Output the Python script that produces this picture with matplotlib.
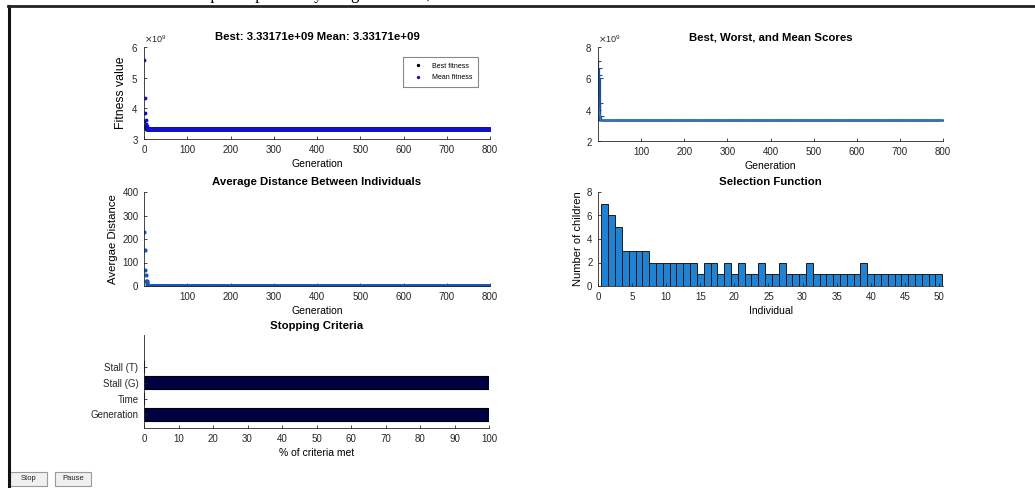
import numpy as np
import matplotlib
matplotlib.use("Agg")
import matplotlib.pyplot as plt
from matplotlib.lines import Line2D
from matplotlib.patches import Rectangle
from matplotlib.ticker import ScalarFormatter

plt.rcParams['font.family'] = ['Liberation Sans', 'DejaVu Sans']

W, H = 1035, 488
n_gen = 800
final_score = 3.33171e9

# fitness history (only the first generations differ, the rest is flat)
best_early = [3.60e9, 3.45e9, 3.40e9, 3.36e9, 3.34e9, 3.335e9]
mean_early = [5.58e9, 4.35e9, 3.85e9, 3.62e9, 3.50e9, 3.42e9, 3.37e9]
best_fit = best_early + [final_score] * (n_gen - len(best_early))
mean_fit = mean_early + [final_score] * (n_gen - len(mean_early))

# score range per generation
range_best = [3.40e9, 3.38e9, 3.36e9, 3.35e9, 3.34e9, 3.335e9]
range_worst = [7.10e9, 6.68e9, 6.22e9, 6.04e9, 4.45e9, 3.62e9]
range_mean = [4.80e9, 4.10e9, 3.90e9, 3.70e9, 3.50e9, 3.40e9]
score_best = range_best + [final_score] * (n_gen - len(range_best))
score_worst = range_worst + [final_score] * (n_gen - len(range_worst))
score_mean = range_mean + [final_score] * (n_gen - len(range_mean))

# average distance between individuals
dist_early = [231, 153, 68, 47, 22, 20, 15, 8, 4, 2]
avg_dist = dist_early + [0.5] * (n_gen - len(dist_early))

# selection function: children per individual
individuals = list(range(1, 51))
children = [7, 6, 5, 3, 3, 3, 3, 2, 2, 2,
            2, 2, 2, 2, 1, 2, 2, 1, 2, 1,
            2, 1, 1, 2, 1, 1, 2, 1, 1, 1,
            2, 1, 1, 1, 1, 1, 1, 1, 2, 1,
            1, 1, 1, 1, 1, 1, 1, 1, 1, 1]

# stopping criteria
criteria = ['Generation', 'Time', 'Stall (G)', 'Stall (T)']
criteria_met = [100, 0, 100, 0]

gens = np.arange(1, n_gen + 1)
AX_COL = '#262626'
TITLE_FS = 8.2


def px(l, t, r, b):
    return [l / W, 1 - b / H, (r - l) / W, (b - t) / H]


def style(ax):
    for s in ['top', 'right']:
        ax.spines[s].set_visible(False)
    for s in ['left', 'bottom']:
        ax.spines[s].set_linewidth(0.6)
        ax.spines[s].set_color(AX_COL)
    ax.tick_params(direction='in', length=2.5, width=0.6, labelsize=7,
                   colors=AX_COL, pad=4)


fig = plt.figure(figsize=(W / 100, H / 100), dpi=100)

# top-left: fitness
ax1 = fig.add_axes(px(144, 47, 490, 139))
style(ax1)
ax1.plot(gens, best_fit, '.', color='black', markersize=3.5, label='Best fitness')
ax1.plot(gens, mean_fit, '.', color='#1010d0', markersize=3.5, label='Mean fitness')
ax1.set_xlim(0, 800)
ax1.set_ylim(3e9, 6e9)
ax1.set_xticks(range(0, 801, 100))
ax1.set_yticks([3e9, 4e9, 5e9, 6e9])
fmt = ScalarFormatter(useMathText=True)
fmt.set_powerlimits((0, 0))
ax1.yaxis.set_major_formatter(fmt)
ax1.yaxis.get_offset_text().set_fontsize(6.5)
ax1.set_title('Best: 3.33171e+09 Mean: 3.33171e+09', fontsize=TITLE_FS,
              fontweight='bold', pad=5)
ax1.set_xlabel('Generation', fontsize=7.5, labelpad=3)
ax1.set_ylabel('Fitness value', fontsize=8.8, labelpad=3)
leg = ax1.legend(loc='upper right', bbox_to_anchor=(0.975, 0.925), fontsize=5,
                 markerscale=0.8, handlelength=2.5, borderpad=0.8,
                 labelspacing=0.6, fancybox=False, framealpha=1)
leg.get_frame().set_edgecolor('#888888')
leg.get_frame().set_linewidth(0.8)

# top-right: best/worst/mean range
ax2 = fig.add_axes(px(598, 47, 943, 141))
style(ax2)
sm = np.array(score_mean)
yerr = [sm - np.array(score_best), np.array(score_worst) - sm]
ax2.errorbar(gens, sm, yerr=yerr, color='#3a86cc', ecolor='#1d4fa0', lw=0.8,
             elinewidth=1.6, capsize=2.5, capthick=0.8)
ax2.set_xlim(0, 800)
ax2.set_ylim(2e9, 8e9)
ax2.set_xticks(range(100, 801, 100))
ax2.set_yticks([2e9, 4e9, 6e9, 8e9])
fmt2 = ScalarFormatter(useMathText=True)
fmt2.set_powerlimits((0, 0))
ax2.yaxis.set_major_formatter(fmt2)
ax2.yaxis.get_offset_text().set_fontsize(6.5)
ax2.set_title('Best, Worst, and Mean Scores', fontsize=TITLE_FS,
              fontweight='bold', pad=5)
ax2.set_xlabel('Generation', fontsize=7.5, labelpad=3)

# middle-left: average distance
ax3 = fig.add_axes(px(144, 192, 490, 286))
style(ax3)
ax3.plot(gens, avg_dist, '.', color='#1558b8', markersize=4)
ax3.set_xlim(0, 800)
ax3.set_ylim(0, 400)
ax3.set_xticks(range(100, 801, 100))
ax3.set_yticks([0, 100, 200, 300, 400])
ax3.set_title('Average Distance Between Individuals', fontsize=TITLE_FS,
              fontweight='bold', pad=5)
ax3.set_xlabel('Generation', fontsize=7.5, labelpad=3)
ax3.set_ylabel('Avergae Distance', fontsize=8.2, labelpad=3)

# middle-right: selection function
ax4 = fig.add_axes(px(598, 192, 943, 286))
style(ax4)
ax4.bar(individuals, children, width=1.0, color='#1f82d3',
        edgecolor='#1a1a1a', linewidth=0.7)
ax4.set_xlim(0, 50.6)
ax4.set_ylim(0, 8)
ax4.set_xticks(range(0, 51, 5))
ax4.set_yticks([0, 2, 4, 6, 8])
ax4.set_title('Selection Function', fontsize=TITLE_FS, fontweight='bold', pad=5)
ax4.set_xlabel('Individual', fontsize=7.5, labelpad=3)
ax4.set_ylabel('Number of children', fontsize=8, labelpad=3)

# bottom-left: stopping criteria
ax5 = fig.add_axes(px(144, 335, 489, 428))
style(ax5)
ax5.barh(range(1, len(criteria) + 1), criteria_met, height=0.8,
         color='#000040', edgecolor='black', linewidth=0.8)
ax5.set_xlim(0, 100)
ax5.set_ylim(0.15, 6)
ax5.set_xticks(range(0, 101, 10))
ax5.set_yticks(range(1, len(criteria) + 1))
ax5.set_yticklabels(criteria)
ax5.set_title('Stopping Criteria', fontsize=TITLE_FS, fontweight='bold', pad=4)
ax5.set_xlabel('% of criteria met', fontsize=7.5, labelpad=3)

# window frame and clipped caption above it
fig.add_artist(Line2D([9 / W, 9 / W], [0, 1 - 6 / H], color='#111111', lw=2.2))
fig.add_artist(Line2D([8 / W, 1], [1 - 6 / H, 1 - 6 / H], color='#222222', lw=2.0))
fig.text(430 / W, 1 + 1 / H, 'options plotted by the ga function,', fontsize=12,
         family='Liberation Serif', ha='right', va='baseline', color='black')

# buttons
for x0, x1, label in [(10, 47, 'Stop'), (55, 91, 'Pause')]:
    fig.add_artist(Rectangle((x0 / W, 1 - 486 / H), (x1 - x0) / W, 14 / H,
                             transform=fig.transFigure, facecolor='#f0f0f0',
                             edgecolor='#9a9a9a', lw=0.8))
    fig.text((x0 + x1) / 2 / W, 1 - 479 / H, label, fontsize=5.5,
             ha='center', va='center', color='#222222')

fig.savefig('out.png', dpi=100)
